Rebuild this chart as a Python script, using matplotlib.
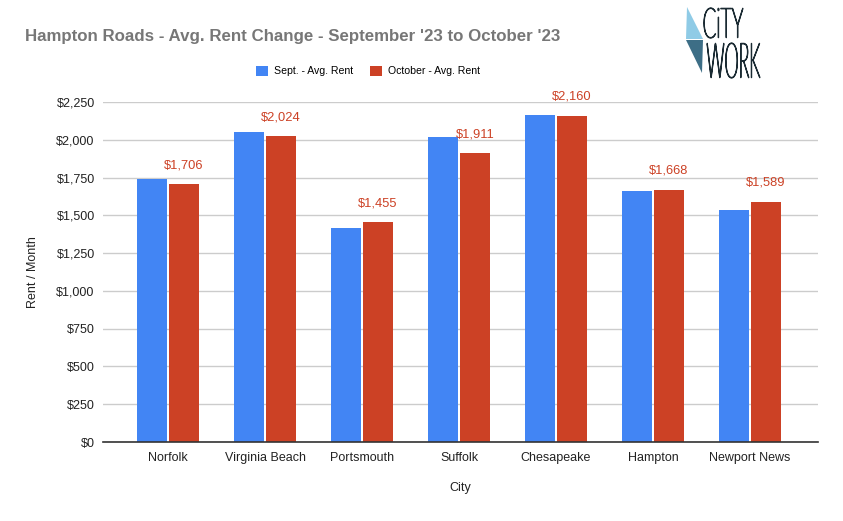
import numpy as np
import matplotlib
matplotlib.use("Agg")
import matplotlib.pyplot as plt
from matplotlib.textpath import TextPath
from matplotlib.font_manager import FontProperties
from matplotlib.patches import PathPatch, Polygon
from matplotlib.transforms import Affine2D
from matplotlib.ticker import FuncFormatter

cities = ["Norfolk", "Virginia Beach", "Portsmouth", "Suffolk",
          "Chesapeake", "Hampton", "Newport News"]
sept_rent = [1741, 2051, 1416, 2016, 2164, 1659, 1535]
oct_rent = [1706, 2024, 1455, 1911, 2160, 1668, 1589]
y_ticks = [0, 250, 500, 750, 1000, 1250, 1500, 1750, 2000, 2250]

BLUE = "#4285F4"
RED = "#CC4125"
W, H = 843, 521

plt.rcParams["font.family"] = ["Liberation Sans", "DejaVu Sans"]

fig = plt.figure(figsize=(W / 100, H / 100), dpi=100)
# plot area in pixels: x 103..818, y 102..442
ax = fig.add_axes([103 / W, 1 - 442 / H, 715 / W, 340 / H])

x = np.arange(len(cities))
bw = 0.31
b1 = ax.bar(x - 0.165, sept_rent, bw, color=BLUE, label="Sept. - Avg. Rent", zorder=3)
b2 = ax.bar(x + 0.165, oct_rent, bw, color=RED, label="October - Avg. Rent", zorder=3)

for rect, v in zip(b2, oct_rent):
    ax.annotate(f"${v:,}", (rect.get_x() + rect.get_width() / 2, v),
                xytext=(0, 13), textcoords="offset pixels",
                ha="center", va="bottom", color=RED, fontsize=9.3)

ax.set_xlim(-0.67, 6.70)
ax.set_ylim(0, 2250)
ax.set_yticks(y_ticks)
ax.yaxis.set_major_formatter(FuncFormatter(lambda v, p: f"${int(v):,}"))
ax.set_xticks(x)
ax.set_xticklabels(cities)
ax.tick_params(axis="both", length=0, labelsize=9, labelcolor="#222222")
ax.tick_params(axis="y", pad=6)
ax.tick_params(axis="x", pad=7)
ax.grid(axis="y", color="#cccccc", linewidth=1, zorder=0)
for s in ["top", "right", "left"]:
    ax.spines[s].set_visible(False)
ax.spines["bottom"].set_color("#333333")
ax.spines["bottom"].set_linewidth(1.2)
ax.spines["bottom"].set_zorder(4)

fig.text(25 / W, 1 - 37 / H, "Hampton Roads - Avg. Rent Change - September '23 to October '23",
         fontsize=12.2, fontweight="bold", color="#777777", va="center", ha="left")
fig.text(33 / W, 1 - 272 / H, "Rent / Month", rotation=90, fontsize=9,
         color="#222222", ha="center", va="center")
fig.text(460 / W, 1 - 488 / H, "City", fontsize=9, color="#222222",
         ha="center", va="center")

fig.legend(handles=[b1, b2], loc="center", bbox_to_anchor=(368 / W, 1 - 71 / H),
           ncol=2, frameon=False, fontsize=7.6, handlelength=1.1, handleheight=1.1,
           columnspacing=1.6, handletextpad=0.6)

# logo overlay in pixel coordinates
lg = fig.add_axes([0, 0, 1, 1], zorder=10)
lg.set_xlim(0, W)
lg.set_ylim(0, H)
lg.axis("off")
lg.patch.set_alpha(0)


def py(v):
    return H - v


lg.add_patch(Polygon([(687, py(7)), (703, py(39)), (686, py(39))],
                     closed=True, color="#8FCBE6", lw=0))
lg.add_patch(Polygon([(686, py(40)), (703, py(40)), (702, py(73))],
                     closed=True, color="#3D6E86", lw=0))

fp = FontProperties(family="Lato", weight="light")


def fit_text(s, x0, x1, y0, y1):
    tp = TextPath((0, 0), s, size=40, prop=fp)
    ext = tp.get_extents()
    sx = (x1 - x0) / ext.width
    sy = (y1 - y0) / ext.height
    tr = Affine2D().translate(-ext.x0, -ext.y0).scale(sx, sy).translate(x0, py(y1))
    lg.add_patch(PathPatch(tr.transform_path(tp), facecolor="#1B2B33",
                           edgecolor="#1B2B33", lw=0.9))


fit_text("CiTY", 704, 743, 8, 38)
fit_text("WORK", 707, 760, 43, 78)

fig.savefig("out.png", dpi=100)
